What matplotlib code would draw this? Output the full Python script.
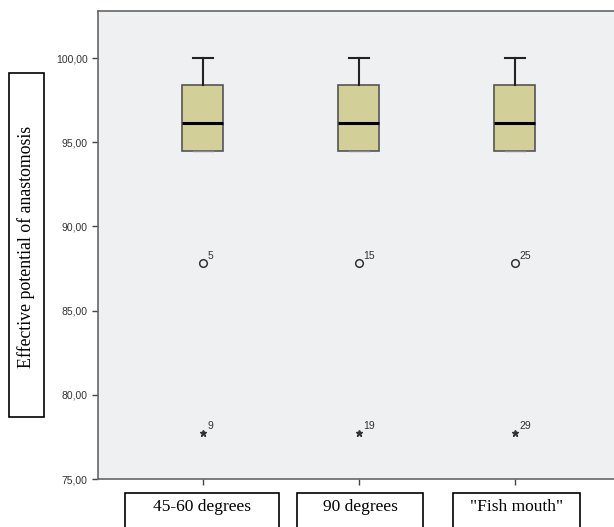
import matplotlib

matplotlib.use("Agg")
import matplotlib.pyplot as plt

GROUPS = ["45-60 degrees", "90 degrees", '"Fish mouth"']
Q1 = [94.48, 94.48, 94.48]
MEDIAN = [96.17, 96.17, 96.17]
Q3 = [98.38, 98.38, 98.38]
WHISK_LO = [94.48, 94.48, 94.48]
WHISK_HI = [100.0, 100.0, 100.0]
OUTLIER = [87.83, 87.83, 87.83]
OUTLIER_ID = ["5", "15", "25"]
EXTREME = [77.73, 77.73, 77.73]
EXTREME_ID = ["9", "19", "29"]
YTICKS = [75, 80, 85, 90, 95, 100]

W, H = 614, 527
fig = plt.figure(figsize=(W / 100, H / 100), dpi=100)
ax = fig.add_axes([98 / W, 1 - 479 / H, 1 - 98 / W, (479 - 11) / H])
ax.set_facecolor("#eff0f2")

pos = [1, 2, 3]
stats = [
    {"med": m, "q1": a, "q3": b, "whislo": lo, "whishi": hi, "fliers": []}
    for m, a, b, lo, hi in zip(MEDIAN, Q1, Q3, WHISK_LO, WHISK_HI)
]
res = ax.bxp(
    stats,
    positions=pos,
    widths=0.263,
    capwidths=0.13,
    patch_artist=True,
    boxprops=dict(facecolor="#d3cf98", edgecolor="#555555", linewidth=1.2),
    medianprops=dict(color="black", linewidth=2.2),
    whiskerprops=dict(color="#222222", linewidth=1.5),
    capprops=dict(color="#222222", linewidth=1.5),
)
# lower caps sit on the box edge, shown faint like the reference
for cap in res["caps"][0::2]:
    cap.set_color("#888888")
    cap.set_linewidth(1.0)

ax.plot(pos, OUTLIER, "o", ms=5.5, mfc="none", mec="#333333", mew=1.1)
ax.plot(pos, EXTREME, "*", ms=5, color="#333333")
for x, y, t in zip(pos, OUTLIER, OUTLIER_ID):
    ax.annotate(t, (x, y), xytext=(3, 3), textcoords="offset points",
                fontsize=7.5, family="Liberation Sans", color="#333333")
for x, y, t in zip(pos, EXTREME, EXTREME_ID):
    ax.annotate(t, (x, y), xytext=(3, 3), textcoords="offset points",
                fontsize=7.5, family="Liberation Sans", color="#333333")

ax.set_xlim(0.327, 3.635)
ax.set_ylim(75, 102.8)
ax.set_yticks(YTICKS)
ax.set_yticklabels([f"{v:.2f}".replace(".", ",") for v in YTICKS],
                   fontsize=7.5, family="Liberation Sans", color="#333333")
ax.set_xticks(pos)
ax.set_xticklabels([])
ax.tick_params(axis="both", direction="out", length=4, width=1, color="#444444")
for s in ["left", "bottom", "top"]:
    ax.spines[s].set_color("#666666")
    ax.spines[s].set_linewidth(1.2)
ax.spines["right"].set_visible(False)

# x labels in boxes
box_spans = [(125, 279), (297, 423), (453, 580)]
for (x0, x1), label in zip(box_spans, GROUPS):
    fig.patches.append(plt.Rectangle((x0 / W, -0.02), (x1 - x0) / W, (527 - 493) / H + 0.02,
                                     transform=fig.transFigure, fill=False,
                                     edgecolor="black", linewidth=1.2))
    fig.text((x0 + x1) / 2 / W, 1 - 507 / H, label, ha="center", va="center",
             fontsize=12.5, family="Liberation Serif")

# y label in box
fig.patches.append(plt.Rectangle((9 / W, 1 - 417 / H), 35 / W, (417 - 73) / H,
                                 transform=fig.transFigure, fill=False,
                                 edgecolor="black", linewidth=1.2))
fig.text(26.5 / W, 1 - 247 / H, "Effective potential of anastomosis", rotation=90,
         ha="center", va="center", fontsize=12.8, family="Liberation Serif")

fig.savefig("out.png", dpi=100)
